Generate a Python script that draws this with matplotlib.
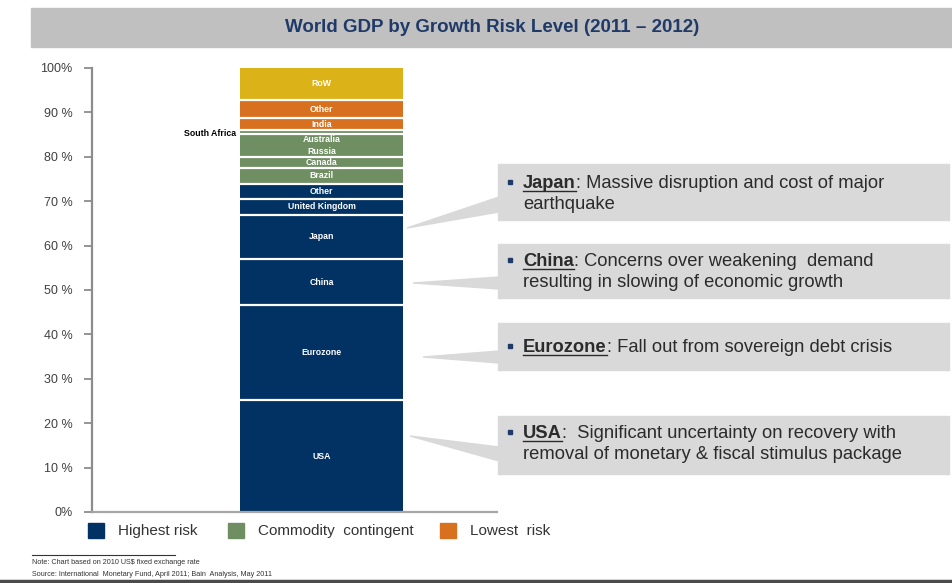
"""World GDP by growth risk level - stacked single bar with callouts."""
import matplotlib.pyplot as plt
import numpy as np
from matplotlib.lines import Line2D
from matplotlib.patches import Polygon, Rectangle

W, H = 952, 583

# bottom -> top
segments = ["USA", "Eurozone", "China", "Japan", "United Kingdom", "Other",
            "Brazil", "Canada", "Russia", "Australia", "South Africa",
            "India", "Other", "RoW"]
shares = [25.2, 21.4, 10.4, 9.9, 3.6, 3.4,
          3.6, 2.5, 2.6, 2.5, 0.9,
          2.7, 4.1, 7.2]
groups = ["high"] * 6 + ["commodity"] * 5 + ["low"] * 2 + ["row"]

GROUP_COLOURS = {
    "high": "#023263",
    "commodity": "#6f8f63",
    "low": "#d8711f",
    "row": "#dbb218",
}

tick_values = list(range(0, 101, 10))
tick_labels = ["0%", "10 %", "20 %", "30 %", "40 %", "50 %",
               "60 %", "70 %", "80 %", "90 %", "100%"]

legend_items = [("Highest risk", "high"),
                ("Commodity  contingent", "commodity"),
                ("Lowest  risk", "low")]

callouts = [
    ("Japan", ": Massive disruption and cost of major", "earthquake"),
    ("China", ": Concerns over weakening  demand",
     "resulting in slowing of economic growth"),
    ("Eurozone", ": Fall out from sovereign debt crisis", None),
    ("USA", ":  Significant uncertainty on recovery with",
     "removal of monetary & fiscal stimulus package"),
]

notes = ["Note: Chart based on 2010 US$ fixed exchange rate",
         "Source: International  Monetary Fund, April 2011; Bain  Analysis, May 2011"]

FONT = ["Liberation Sans", "DejaVu Sans"]
plt.rcParams["font.family"] = FONT
TXT = "#2b2b2b"


def fx(x):
    return x / W


def fy(y):
    return 1 - y / H


fig = plt.figure(figsize=(W / 100, H / 100), dpi=100)

# title band
fig.patches.append(Rectangle((fx(31), fy(47)), fx(952 - 31), 39 / H,
                             transform=fig.transFigure, color="#c0c0c0",
                             zorder=0))
fig.text(fx(492), fy(28), "World GDP by Growth Risk Level (2011 \u2013 2012)",
         ha="center", va="center", fontsize=13.5, fontweight="bold",
         color="#1f3a68",
         family=["Liberation Sans Narrow", "Liberation Sans"])

# main axes
ax = fig.add_axes([fx(92), fy(512), (497 - 92) / W, (512 - 68) / H])
bar_x, bar_w = 0.5667, 0.4025
bottoms = np.concatenate([[0], np.cumsum(shares)[:-1]])
colours = [GROUP_COLOURS[g] for g in groups]
ax.bar(bar_x, shares, width=bar_w, bottom=bottoms, color=colours,
       linewidth=0, zorder=2)

# white dividers (Russia/Australia share one block)
NO_DIVIDER_BELOW = {"Australia"}
div_y = [bottoms[i] for i in range(1, len(segments))
         if segments[i] not in NO_DIVIDER_BELOW]
ax.hlines(div_y, bar_x - bar_w / 2, bar_x + bar_w / 2, color="white",
          lw=1.6, zorder=3)

for name, b, s in zip(segments, bottoms, shares):
    c = b + s / 2
    if name == "South Africa":
        ax.text(bar_x - bar_w / 2 - 0.01, c - 0.4, name, ha="right",
                va="center", fontsize=6.3, fontweight="bold", color="black")
        continue
    ax.text(bar_x, c, name, ha="center", va="center", fontsize=6.3,
            fontweight="bold", color="white", zorder=4)

ax.set_xlim(0, 1)
ax.set_ylim(0, 100)
ax.set_xticks([])
ax.set_yticks(tick_values)
ax.set_yticklabels(tick_labels, fontsize=9, color="#404040")
ax.tick_params(axis="y", length=6, width=1.3, color="#8c8c8c", pad=8)
for side in ("top", "right"):
    ax.spines[side].set_visible(False)
ax.spines["left"].set_color("#8c8c8c")
ax.spines["left"].set_linewidth(1.6)
ax.spines["bottom"].set_color("#a6a6a6")
ax.spines["bottom"].set_linewidth(1.6)
ax.patch.set_alpha(0)

# legend
leg_x = [88, 228, 440]
for (label, g), x0 in zip(legend_items, leg_x):
    fig.patches.append(Rectangle((fx(x0), fy(538)), 16 / W, 15 / H,
                                 transform=fig.transFigure,
                                 color=GROUP_COLOURS[g]))
    fig.text(fx(x0 + 30), fy(531), label, ha="left", va="center",
             fontsize=11, color="#333333")

# notes
fig.lines.append(Line2D([fx(32), fx(175)], [fy(555), fy(555)],
                        transform=fig.transFigure, color="#333333", lw=0.8))
for i, n in enumerate(notes):
    fig.text(fx(32), fy(563 + 11 * i), n, ha="left", va="center",
             fontsize=5.2, color="#333333")
fig.lines.append(Line2D([0, 1], [fy(581), fy(581)],
                        transform=fig.transFigure, color="#4a4a4a", lw=2.5))

# callout boxes: (box top, box bottom, tip, tail base top, tail base bottom,
#                 first line y)
box_geo = [
    (164, 220, (407, 228), 197, 212, 182),
    (244, 298, (413, 283), 277, 289, 260),
    (323, 370, (423, 357), 351, 363, 346),
    (416, 474, (410, 436), 447, 461, 432),
]
BOX_L, BOX_R = 498, 949
BOX_C = "#d9d9d9"
FS = 13.2
renderer = fig.canvas.get_renderer()
for (name, rest, line2), (bt, bb, tip, t0, t1, ly) in zip(callouts, box_geo):
    fig.patches.append(Rectangle((fx(BOX_L), fy(bb)), (BOX_R - BOX_L) / W,
                                 (bb - bt) / H, transform=fig.transFigure,
                                 color=BOX_C, zorder=1))
    fig.patches.append(Polygon([(fx(tip[0]), fy(tip[1])),
                                (fx(BOX_L + 1), fy(t0)),
                                (fx(BOX_L + 1), fy(t1))],
                               closed=True, transform=fig.transFigure,
                               color=BOX_C, zorder=1))
    fig.patches.append(Rectangle((fx(508), fy(ly + 2)), 4 / W, 4 / H,
                                 transform=fig.transFigure,
                                 color="#1f3a68", zorder=2))
    base = fy(ly + 6)
    nt = fig.text(fx(523), base, name, ha="left", va="baseline",
                  fontsize=FS, fontweight="bold", color=TXT, zorder=3)
    ext = nt.get_window_extent(renderer)
    fig.text(ext.x1 / W, base, rest, ha="left", va="baseline",
             fontsize=FS, color=TXT, zorder=3)
    uy = base - 2.5 / H
    fig.lines.append(Line2D([ext.x0 / W, ext.x1 / W], [uy, uy],
                            transform=fig.transFigure, color=TXT, lw=1.0))
    if line2:
        fig.text(fx(523), fy(ly + 27), line2, ha="left", va="baseline",
                 fontsize=FS, color=TXT, zorder=3)

fig.savefig("out.png", dpi=100)
